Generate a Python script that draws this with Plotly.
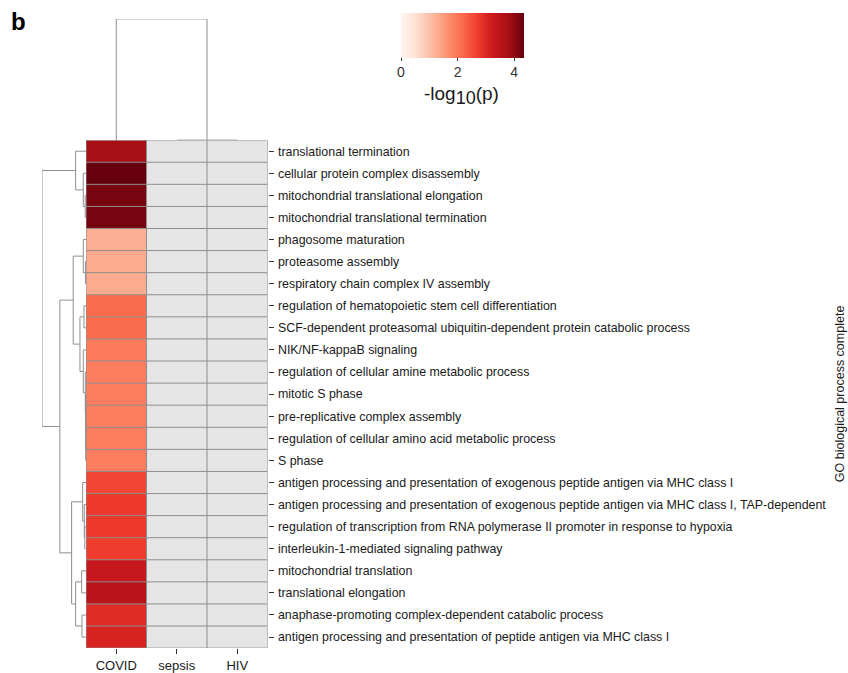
import plotly.graph_objects as go

# ---- data -------------------------------------------------------------
terms = [
    "translational termination",
    "cellular protein complex disassembly",
    "mitochondrial translational elongation",
    "mitochondrial translational termination",
    "phagosome maturation",
    "proteasome assembly",
    "respiratory chain complex IV assembly",
    "regulation of hematopoietic stem cell differentiation",
    "SCF-dependent proteasomal ubiquitin-dependent protein catabolic process",
    "NIK/NF-kappaB signaling",
    "regulation of cellular amine metabolic process",
    "mitotic S phase",
    "pre-replicative complex assembly",
    "regulation of cellular amino acid metabolic process",
    "S phase",
    "antigen processing and presentation of exogenous peptide antigen via MHC class I",
    "antigen processing and presentation of exogenous peptide antigen via MHC class I, TAP-dependent",
    "regulation of transcription from RNA polymerase II promoter in response to hypoxia",
    "interleukin-1-mediated signaling pathway",
    "mitochondrial translation",
    "translational elongation",
    "anaphase-promoting complex-dependent catabolic process",
    "antigen processing and presentation of peptide antigen via MHC class I",
]
conditions = ["COVID", "sepsis", "HIV"]

# -log10(p) for COVID; sepsis and HIV have no enriched terms (NA)
covid_logp = [3.8, 4.35, 4.2, 4.2, 1.25, 1.3, 1.3, 2.15, 2.15, 1.95,
              1.9, 1.9, 1.9, 1.9, 1.9, 2.6, 2.75, 2.75, 2.7, 3.35,
              3.5, 2.95, 3.1]
sepsis_logp = [None] * len(terms)
hiv_logp = [None] * len(terms)

# hierarchical clustering trees: (height, left, right), leaves are indices
row_tree = (4.37,
            (1.03, 0, (0.27, 1, (0.08, 2, 3))),
            (2.6,
             (1.27, (0.27, 4, (0.06, 5, 6)),
              (0.6, (0.2, 7, 8),
               (0.27, 9, (0.07, 10, (0.05, 11, (0.04, 12, (0.03, 13, 14))))))),
             (1.43, (0.33, 15, (0.17, 16, (0.12, 17, 18))),
              (1.03, (0.43, 19, 20), (0.4, 21, 22)))))
col_tree = (1.22, 0, (0.0, 1, 2))

colorbar_ticks = [0, 2, 4]
zmax = 4.35

# ---- helpers ----------------------------------------------------------
def dendro_segments(node):
    """Return (leaf-axis coords, height coords) of the U-shaped links."""
    pos, hts = [], []

    def walk(n):
        if isinstance(n, int):
            return float(n), 0.0
        h, left, right = n
        pl, hl = walk(left)
        pr, hr = walk(right)
        pos.extend([pl, pl, pr, pr, None])
        hts.extend([hl, h, h, hr, None])
        return (pl + pr) / 2.0, h

    walk(node)
    return pos, hts


W, H = 848, 673
grid_l, grid_r, grid_t, grid_b = 86, 267.5, 141, 652
row_root_x = 42
col_top_y = 19

reds = [[0.0, "rgb(255,245,240)"], [0.125, "rgb(254,224,210)"],
        [0.25, "rgb(252,187,161)"], [0.375, "rgb(252,146,114)"],
        [0.5, "rgb(251,106,74)"], [0.625, "rgb(239,59,44)"],
        [0.75, "rgb(203,24,29)"], [0.875, "rgb(165,15,21)"],
        [1.0, "rgb(103,0,13)"]]

n_rows, n_cols = len(terms), len(conditions)
font_family = "Liberation Sans, Arial, sans-serif"
line_grey = "#8e8e8e"

fig = go.Figure()

# NA cells (light grey)
na_z = [[None if c is not None else 1 for c in row]
        for row in zip(covid_logp, sepsis_logp, hiv_logp)]
fig.add_trace(go.Heatmap(
    z=na_z, x=list(range(n_cols)), y=list(range(n_rows)),
    colorscale=[[0, "#e5e5e5"], [1, "#e5e5e5"]], showscale=False,
    hoverinfo="skip", xaxis="x", yaxis="y"))

# enrichment values
val_z = [list(row) for row in zip(covid_logp, sepsis_logp, hiv_logp)]
fig.add_trace(go.Heatmap(
    z=val_z, x=list(range(n_cols)), y=list(range(n_rows)),
    colorscale=reds, zmin=0, zmax=zmax,
    colorbar=dict(
        orientation="h", x=401 / W, xanchor="left", y=1 - 13 / H, yanchor="top",
        len=123, lenmode="pixels", thickness=45, thicknessmode="pixels",
        outlinewidth=0, ticks="outside", ticklen=3, tickcolor="#333333",
        tickvals=colorbar_ticks, tickfont=dict(size=14, color="#333333"),
        ypad=0, xpad=0),
    xaxis="x", yaxis="y"))

# cell borders
for i in range(n_rows + 1):
    fig.add_shape(type="line", xref="x", yref="y",
                  x0=-0.5, x1=n_cols - 0.5, y0=i - 0.5, y1=i - 0.5,
                  line=dict(color=line_grey, width=1))
for j in range(n_cols + 1):
    fig.add_shape(type="line", xref="x", yref="y",
                  x0=j - 0.5, x1=j - 0.5, y0=-0.5, y1=n_rows - 0.5,
                  line=dict(color=line_grey, width=1))

# row dendrogram
rp, rh = dendro_segments(row_tree)
fig.add_trace(go.Scatter(x=rh, y=rp, mode="lines", xaxis="x2", yaxis="y",
                         line=dict(color=line_grey, width=1),
                         hoverinfo="skip", showlegend=False))

# column dendrogram
cp, ch = dendro_segments(col_tree)
fig.add_trace(go.Scatter(x=cp, y=ch, mode="lines", xaxis="x", yaxis="y3",
                         line=dict(color=line_grey, width=1),
                         hoverinfo="skip", showlegend=False))

fig.update_layout(
    width=W, height=H, margin=dict(l=0, r=0, t=0, b=0),
    paper_bgcolor="white", plot_bgcolor="rgba(0,0,0,0)",
    font=dict(family=font_family, color="#1a1a1a"),
    showlegend=False,
    xaxis=dict(domain=[grid_l / W, grid_r / W], range=[-0.5, n_cols - 0.5],
               tickvals=list(range(n_cols)), ticktext=conditions,
               ticks="outside", ticklen=5, tickcolor="#333333",
               tickfont=dict(size=13, color="#1a1a1a"),
               showgrid=False, zeroline=False, showline=False, anchor="y"),
    yaxis=dict(domain=[1 - grid_b / H, 1 - grid_t / H],
               range=[n_rows - 0.5, -0.5],
               tickvals=list(range(n_rows)), ticktext=terms, side="right",
               ticks="outside", ticklen=5, tickcolor="#333333",
               ticklabelstandoff=2,
               tickfont=dict(size=12.4, color="#1a1a1a"),
               showgrid=False, zeroline=False, showline=False, anchor="x"),
    xaxis2=dict(domain=[row_root_x / W, grid_l / W], range=[row_tree[0], 0],
                visible=False, anchor="y"),
    yaxis3=dict(domain=[1 - grid_t / H, 1 - col_top_y / H],
                range=[0, col_tree[0]], visible=False, anchor="x"),
    annotations=[
        dict(text="b", x=9 / W, y=1 - 22 / H, xref="paper", yref="paper",
             xanchor="left", yanchor="middle", showarrow=False,
             font=dict(size=24, family=font_family, color="black", weight="bold")),
        dict(text="-log<sub><span style='font-size:18px'>10</span></sub>(p)",
             x=462 / W, y=1 - 96 / H,
             xref="paper", yref="paper", xanchor="center", yanchor="middle",
             showarrow=False, font=dict(size=19, color="#1a1a1a")),
        dict(text="GO biological process complete", x=840 / W,
             y=1 - ((grid_t + grid_b) / 2) / H, xref="paper", yref="paper",
             xanchor="center", yanchor="middle", textangle=-90,
             showarrow=False, font=dict(size=12.5, color="#1a1a1a")),
    ],
)

fig.write_html("out.html")
